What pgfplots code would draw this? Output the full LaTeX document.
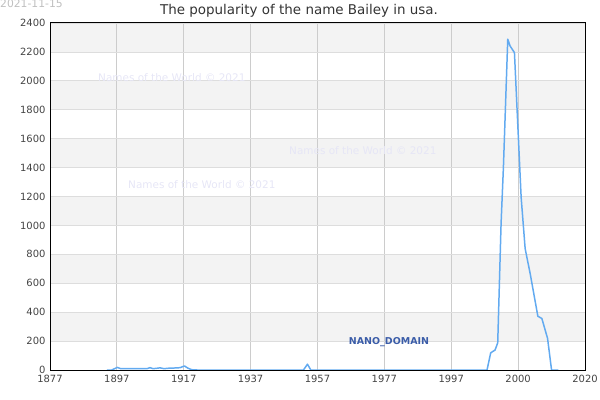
\documentclass[border=0pt]{standalone}
\usepackage{pgfplots}
\pgfplotsset{compat=1.18}
\usepackage{fontspec}
\setmainfont{DejaVu Sans}
\definecolor{bandgray}{HTML}{F3F3F3}
\definecolor{hgrid}{HTML}{DDDDDD}
\definecolor{vgrid}{HTML}{CCCCCC}
\definecolor{linecol}{HTML}{62AAF0}
\definecolor{wm}{HTML}{E6E6F6}
\definecolor{ticktext}{HTML}{444444}
\definecolor{nano}{HTML}{3A5CA8}
\begin{document}
\begin{tikzpicture}
\begin{axis}[
  at={(50bp,30bp)}, anchor=origin,
  set layers,
  scale only axis,
  width=535bp, height=347bp,
  xmin=1877, xmax=2037, ymin=0, ymax=2400,
  xtick={1877,1897,1917,1937,1957,1977,1997,2017,2037},
  xticklabels={1877,1897,1917,1937,1957,1977,1997,2000,2020},
  ytick={0,200,...,2400},
  /pgf/number format/1000 sep={},
  /pgf/number format/assume math mode=true,
  tick label style={font=\fontsize{10}{12}\selectfont, text=ticktext},
  major tick length=0pt,
  xmajorgrids, ymajorgrids,
  x grid style={vgrid, line width=0.8pt},
  y grid style={hgrid, line width=0.8pt},
  axis line style={black, line width=1pt},
  xticklabel style={yshift=-2bp},
  yticklabel style={xshift=-1bp},
  clip=true,
]
\addplot[draw=none, fill=bandgray, forget plot, on layer=axis background] coordinates {(1877,200) (2037,200) (2037,400) (1877,400)} -- cycle;
\addplot[draw=none, fill=bandgray, forget plot, on layer=axis background] coordinates {(1877,600) (2037,600) (2037,800) (1877,800)} -- cycle;
\addplot[draw=none, fill=bandgray, forget plot, on layer=axis background] coordinates {(1877,1000) (2037,1000) (2037,1200) (1877,1200)} -- cycle;
\addplot[draw=none, fill=bandgray, forget plot, on layer=axis background] coordinates {(1877,1400) (2037,1400) (2037,1600) (1877,1600)} -- cycle;
\addplot[draw=none, fill=bandgray, forget plot, on layer=axis background] coordinates {(1877,1800) (2037,1800) (2037,2000) (1877,2000)} -- cycle;
\addplot[draw=none, fill=bandgray, forget plot, on layer=axis background] coordinates {(1877,2200) (2037,2200) (2037,2400) (1877,2400)} -- cycle;
\addplot[linecol, line width=1.5pt, line join=round, mark=none] coordinates {
(1894.0,0) (1895.5,0) (1897.1,18) (1898.2,9) (1906.0,9) (1906.9,16) (1907.8,9)
(1909.0,12) (1909.9,15) (1911.1,9) (1912.3,12) (1914.4,14) (1915.9,16) (1917.2,28)
(1918.3,12) (1919.4,2) (1921,0) (1952.8,0) (1954.0,40) (1955.0,0) (2007.7,0)
(2008.8,119) (2010.1,138) (2010.9,188) (2011.9,1012) (2012.6,1402) (2013.9,2288)
(2014.6,2241) (2015.9,2195) (2017.9,1195) (2019.1,839) (2020.6,667) (2022.9,372)
(2024.1,356) (2025.8,219) (2027.0,0) (2029.0,0)
};
\end{axis}
\node[anchor=base west, inner sep=0pt, text=black!25, font=\fontsize{10.8}{12}\selectfont] at (0bp,392bp) {2021-11-15};
\node[anchor=base, inner sep=0pt, text=black!80, font=\fontsize{13.5}{15}\selectfont] at (299bp,385bp) {The popularity of the name Bailey in usa.};
\node[anchor=west, inner sep=0pt, text=wm, font=\fontsize{10.5}{12}\selectfont] at (98bp,322bp) {Names of the World © 2021};
\node[anchor=west, inner sep=0pt, text=wm, font=\fontsize{10.5}{12}\selectfont] at (289bp,249bp) {Names of the World © 2021};
\node[anchor=west, inner sep=0pt, text=wm, font=\fontsize{10.5}{12}\selectfont] at (128bp,215bp) {Names of the World © 2021};
\node[anchor=center, inner sep=0pt, text=nano, font=\bfseries\fontsize{9.5}{11}\selectfont] at (389bp,58bp) {NANO\_DOMAIN};
\pgfresetboundingbox
\useasboundingbox (0,0) rectangle (600bp,400bp);
\end{tikzpicture}
\end{document}
